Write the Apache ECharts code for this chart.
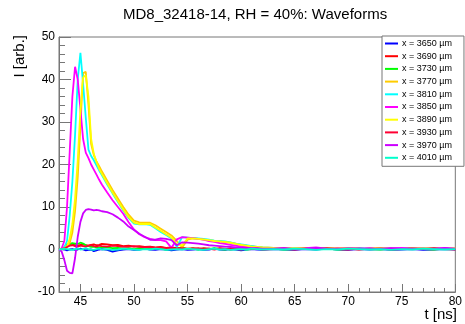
<!DOCTYPE html>
<html>
<head>
<meta charset="utf-8">
<script src="https://cdn.jsdelivr.net/npm/echarts@6/dist/echarts.min.js"></script>
<style>
  html, body { margin: 0; padding: 0; background: #fff; }
  #main { width: 465px; height: 324px; }
</style>
</head>
<body>
<div id="main"></div>
<script>
// sample times [ns]
const times = [
  43, 43.25, 43.5, 43.75, 44, 44.25, 44.5, 44.75, 45, 45.25, 45.5, 45.75, 46, 46.25, 46.5, 46.75, 47,
  47.5, 48, 48.5, 49, 49.5, 50, 50.5, 51, 51.5, 52, 52.5, 53, 53.5, 54, 54.5, 55, 55.5, 56, 56.5,
  57, 57.5, 58, 58.5, 59, 59.5, 60, 60.5, 61, 61.5, 62,
  63, 64, 65, 66, 67, 68, 69, 70, 71, 72, 73, 74, 75, 76, 77, 78, 79, 80
];

const labels = ['x = 3650 µm', 'x = 3690 µm', 'x = 3730 µm', 'x = 3770 µm', 'x = 3810 µm',
  'x = 3850 µm', 'x = 3890 µm', 'x = 3930 µm', 'x = 3970 µm', 'x = 4010 µm'];
const colors = ['#0000ff', '#ff0000', '#00ff00', '#ffcc00', '#00ffff',
  '#ff00ff', '#ffff00', '#ff0033', '#cc00ff', '#00ffcc'];

const w3650 = [
  0.0, 0.1, 0.0, -0.2, 0.0, 0.1, -0.1, 0.0, 0.2, 0.0, -0.2, -0.1, 0.0, -0.4, -0.2, 0.0, 0.1,
  -0.1, -0.5, -0.2, 0.0, 0.1, -0.1, 0.0, 0.2, 0.0, -0.1, 0.1, 0.0, -0.2, 0.0, 0.1, -0.1, 0.0, 0.1, -0.1,
  0.0, 0.2, 0.0, -0.1, 0.1, 0.0, -0.2, 0.0, 0.1, 0.0, -0.1,
  0.1, 0.0, -0.1, 0.1, 0.0, 0.2, 0.0, -0.1, 0.1, 0.0, 0.1, -0.1, 0.0, 0.1, -0.1, 0.0, 0.1, 0.0
];
const w3690 = [
  0.1, 0.2, 0.5, 1.2, 1.4, 1.3, 1.0, 0.9, 1.1, 1.2, 1.0, 0.9, 1.1, 1.2, 1.0, 1.1, 1.3,
  1.2, 1.0, 1.1, 0.8, 0.9, 0.7, 0.8, 0.6, 0.7, 0.5, 0.6, 0.4, 0.5, 0.3, 0.4, 0.2, 0.3, 0.1, 0.3,
  0.2, 0.1, 0.3, 0.2, 0.0, 0.2, 0.1, 0.3, 0.2, 0.1, 0.2,
  0.3, 0.1, 0.2, 0.4, 0.2, 0.1, 0.3, 0.2, 0.0, 0.2, 0.3, 0.1, 0.2, 0.3, 0.1, 0.2, 0.1, 0.2
];
const w3730 = [
  0.0, 0.2, 0.4, 0.8, 1.2, 1.5, 1.4, 1.3, 1.6, 1.4, 1.0, 0.8, 0.6, 0.7, 0.5, 0.4, 0.6,
  0.5, 0.3, 0.4, 0.2, 0.3, 0.1, 0.3, 0.2, 0.1, 0.3, 0.2, 0.0, 0.2, 0.1, 0.3, 0.1, 0.2, 0.0, 0.2,
  0.1, 0.3, 0.1, 0.0, 0.2, 0.1, 0.2, 0.0, 0.1, 0.2, 0.1,
  0.2, 0.0, 0.1, 0.3, 0.1, 0.2, 0.0, 0.1, 0.2, 0.1, 0.0, 0.2, 0.1, 0.3, 0.1, 0.0, 0.2, 0.1
];
const w3770 = [
  0.1, 0.0, 0.2, 0.5, 1.5, 4.0, 9.0, 17.0, 29.0, 41.5, 41.8, 34.0, 24.8, 22.2, 20.7, 19.6, 18.4,
  16.2, 14.0, 12.0, 10.0, 8.2, 6.8, 6.4, 6.3, 6.3, 5.7, 4.9, 4.1, 3.3, 2.0, 0.5, 2.3, 2.6, 2.5, 2.3,
  2.2, 2.0, 1.9, 1.7, 1.6, 1.4, 1.1, 0.9, 0.8, 0.6, 0.5,
  0.4, 0.3, 0.2, 0.3, 0.1, 0.2, 0.3, 0.2, 0.1, 0.3, 0.2, 0.2, 0.1, 0.3, 0.2, 0.1, 0.2, 0.2
];
const w3810 = [
  0.1, 0.2, 0.5, 2.0, 8.0, 16.0, 27.0, 40.0, 46.3, 39.0, 31.0, 23.5, 22.0, 21.0, 19.8, 18.6, 17.5,
  15.3, 13.2, 11.2, 9.2, 7.4, 6.1, 5.9, 6.0, 5.8, 5.0, 4.1, 3.4, 2.6, 0.6, 2.9, 2.8, 2.7, 2.6, 2.5,
  2.3, 2.1, 2.0, 1.9, 1.7, 1.4, 1.2, 1.0, 0.8, 0.6, 0.5,
  0.4, 0.2, 0.3, 0.1, 0.2, 0.3, 0.1, 0.2, 0.3, 0.2, 0.1, 0.2, 0.3, 0.1, 0.2, 0.3, 0.1, 0.2
];
const w3850 = [
  0.0, 0.3, 2.0, 10.0, 23.0, 36.0, 43.0, 40.0, 33.0, 26.0, 22.8, 21.5, 20.0, 18.8, 17.6, 16.4, 15.3,
  13.4, 11.6, 10.0, 8.4, 6.4, 4.7, 3.6, 2.9, 2.5, 2.2, 2.2, 1.9, 0.4, 2.4, 2.9, 2.8, 2.7, 2.5, 2.3,
  2.0, 1.8, 1.5, 1.3, 1.1, 0.9, 0.7, 0.6, 0.5, 0.4, 0.3,
  0.3, 0.4, 0.2, 0.3, 0.5, 0.2, 0.3, 0.4, 0.2, 0.3, 0.1, 0.3, 0.4, 0.2, 0.3, 0.2, 0.4, 0.2
];
const w3890 = [
  0.0, 0.1, 0.3, 0.8, 2.5, 6.0, 12.0, 21.0, 33.0, 40.5, 41.0, 36.0, 26.0, 22.5, 20.6, 19.0, 17.8,
  15.6, 13.4, 11.4, 9.4, 7.6, 6.3, 6.0, 6.0, 6.0, 5.2, 4.4, 3.6, 2.8, 1.2, 1.0, 2.6, 2.6, 2.5, 2.4,
  2.2, 2.0, 1.9, 1.8, 1.6, 1.3, 1.1, 0.9, 0.7, 0.6, 0.5,
  0.4, 0.2, 0.3, 0.2, 0.1, 0.3, 0.2, 0.4, 0.2, 0.1, 0.3, 0.2, 0.1, 0.2, 0.3, 0.2, 0.1, 0.3
];
const w3930 = [
  0.0, 0.1, 0.3, 0.6, 0.9, 1.0, 0.8, 0.7, 0.9, 0.8, 0.7, 0.9, 1.0, 0.8, 0.7, 0.9, 0.8,
  0.7, 0.9, 0.8, 0.6, 0.7, 0.8, 0.6, 0.5, 0.6, 0.4, 0.5, 0.3, 0.4, 0.2, 0.3, 0.1, 0.2, 0.3, 0.1,
  0.2, 0.0, 0.2, 0.1, 0.3, 0.1, 0.0, 0.2, 0.1, 0.2, 0.0,
  0.1, 0.2, 0.0, 0.2, 0.1, 0.3, 0.1, 0.0, 0.2, 0.1, 0.2, 0.0, 0.1, 0.2, 0.1, 0.3, 0.1, 0.0
];
const w3970 = [
  0.0, -0.5, -2.5, -5.0, -5.5, -5.6, -2.0, 3.0, 6.5, 8.5, 9.3, 9.5, 9.4, 9.2, 9.3, 9.2, 9.0,
  8.8, 8.3, 7.5, 6.6, 5.4, 4.6, 3.7, 3.0, 2.3, 2.3, 2.6, 2.5, 2.2, 1.0, 1.7, 1.6, 1.5, 1.4, 1.2,
  1.0, 0.9, 0.8, 0.7, 0.6, 0.5, 0.4, 0.4, 0.3, 0.3, 0.2,
  0.2, 0.3, 0.1, 0.2, 0.4, 0.2, 0.1, 0.3, 0.2, 0.1, 0.2, 0.3, 0.1, 0.2, 0.2, 0.1, 0.3, 0.2
];
const w4010 = [
  0.0, 0.1, 0.2, 0.1, 0.0, -0.1, 0.1, 0.2, 0.0, 0.1, 0.3, 0.1, 0.0, -0.1, 0.1, 0.2, 0.0,
  0.1, -0.1, 0.0, 0.2, 0.1, 0.0, -0.1, 0.1, 0.0, 0.2, 0.1, -0.1, 0.0, 0.1, 0.0, 0.2, 0.1, 0.0, -0.1,
  0.1, 0.2, 0.0, 0.1, -0.1, 0.0, 0.1, 0.0, 0.2, 0.1, 0.0,
  0.1, 0.0, 0.2, 0.1, -0.1, 0.1, 0.0, 0.2, 0.1, 0.0, 0.1, -0.1, 0.1, 0.0, 0.2, 0.1, 0.0, 0.1
];

const waves = [w3650, w3690, w3730, w3770, w3810, w3850, w3890, w3930, w3970, w4010];
const xMajor = [45, 50, 55, 60, 65, 70, 75, 80];

const FONT = 'Liberation Sans, Arial, Helvetica, sans-serif';
const frame = '#777';

const chart = echarts.init(document.getElementById('main'), null, { renderer: 'canvas' });

const series = waves.map(function (w, i) {
  return {
    name: labels[i],
    type: 'line',
    xAxisIndex: 0,
    symbol: 'none',
    data: times.map(function (t, k) { return [t, w[k]]; }),
    lineStyle: { color: colors[i], width: 1.8 },
    itemStyle: { color: colors[i] },
    z: 2 + i,
  };
});

chart.setOption({
  animation: false,
  backgroundColor: '#fff',
  title: {
    text: 'MD8_32418-14, RH = 40%: Waveforms',
    left: 123,
    top: 7,
    padding: 0,
    textStyle: { fontFamily: FONT, fontSize: 15, fontWeight: 'normal', color: '#000' },
  },
  legend: {
    orient: 'vertical',
    left: 382,
    top: 36,
    padding: [3, 12, 4, 3],
    icon: 'rect',
    itemWidth: 13,
    itemHeight: 2,
    itemGap: 3.7,
    backgroundColor: '#fff',
    borderColor: frame,
    borderWidth: 1,
    borderRadius: 0,
    textStyle: { fontFamily: FONT, fontSize: 9, color: '#000', padding: [0, 0, 0, -1] },
    data: labels,
  },
  grid: {
    left: 59, right: 8, top: 37, bottom: 32,
    show: true, borderColor: frame, borderWidth: 1,
  },
  xAxis: [
    {
      type: 'value',
      min: 43, max: 80,
      axisLine: { show: true, onZero: false, lineStyle: { color: frame } },
      axisTick: { show: true, inside: true, length: 8, customValues: xMajor, lineStyle: { color: frame } },
      axisLabel: { customValues: xMajor, margin: 4, fontFamily: FONT, fontSize: 12, color: '#000' },
      splitLine: { show: false },
    },
    {
      type: 'value',
      min: 43, max: 80, interval: 1,
      position: 'bottom',
      axisLine: { show: false, onZero: false },
      axisTick: { show: true, inside: true, length: 4, lineStyle: { color: frame } },
      axisLabel: { show: false },
      splitLine: { show: false },
    },
  ],
  yAxis: {
    type: 'value',
    min: -10, max: 50, interval: 10,
    axisLine: { show: true, onZero: false, lineStyle: { color: frame } },
    axisTick: { show: true, inside: true, length: 12, lineStyle: { color: frame } },
    minorTick: { show: true, splitNumber: 5, length: 6, lineStyle: { color: frame } },
    axisLabel: { margin: 4, fontFamily: FONT, fontSize: 12, color: '#000' },
    splitLine: { show: false },
  },
  graphic: [
    {
      type: 'text', x: 20, y: 35, rotation: Math.PI / 2,
      style: { text: 'I [arb.]', font: '15px ' + FONT, fill: '#000', align: 'right', verticalAlign: 'middle' },
    },
    {
      type: 'text', x: 457, y: 315,
      style: { text: 't [ns]', font: '15px ' + FONT, fill: '#000', align: 'right', verticalAlign: 'middle' },
    },
  ],
  series: series,
});
</script>
</body>
</html>
